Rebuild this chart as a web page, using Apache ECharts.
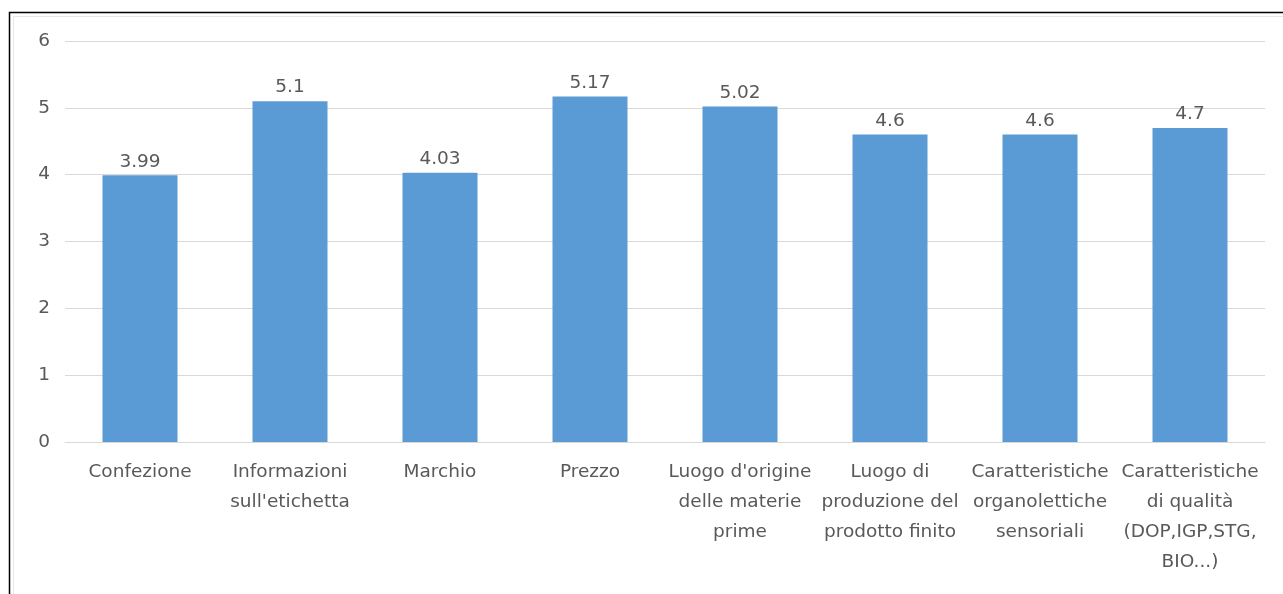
<!DOCTYPE html>
<html>
<head>
<meta charset="utf-8">
<script src="https://cdn.jsdelivr.net/npm/echarts@6/dist/echarts.min.js"></script>
<style>
  html, body { margin: 0; padding: 0; background: #fff; }
  #chart { width: 1283px; height: 594px; }
</style>
</head>
<body>
<div id="chart"></div>
<script>
// Attributi del prodotto e punteggio medio
const categories = [
  "Confezione",
  "Informazioni\nsull'etichetta",
  "Marchio",
  "Prezzo",
  "Luogo d'origine\ndelle materie\nprime",
  "Luogo di\nproduzione del\nprodotto finito",
  "Caratteristiche\norganolettiche\nsensoriali",
  "Caratteristiche\ndi qualità\n(DOP,IGP,STG,\nBIO...)"
];
const values = [3.99, 5.1, 4.03, 5.17, 5.02, 4.6, 4.6, 4.7];
const valueLabels = ["3.99", "5.1", "4.03", "5.17", "5.02", "4.6", "4.6", "4.7"];

const fontFamily = "'DejaVu Sans', 'Open Sans', sans-serif";
const textColor = "#595959";

const chart = echarts.init(document.getElementById('chart'), null, { renderer: 'canvas' });
chart.setOption({
  animation: false,
  backgroundColor: '#ffffff',
  graphic: [
    {
      type: 'rect',
      shape: { x: 13.5, y: 16.5, width: 1300, height: 700 },
      style: { fill: 'none', stroke: '#e8e8e8', lineWidth: 1 },
      silent: true
    },
    {
      type: 'rect',
      shape: { x: 9.5, y: 12.5, width: 1300, height: 700 },
      style: { fill: 'none', stroke: '#000000', lineWidth: 1.5 },
      silent: true
    }
  ],
  grid: { left: 65, right: 18, top: 41, bottom: 152, containLabel: false },
  xAxis: {
    type: 'category',
    data: categories,
    axisTick: { show: false },
    axisLine: { show: true, lineStyle: { color: '#d9d9d9', width: 1 } },
    axisLabel: {
      interval: 0,
      margin: 15,
      color: textColor,
      fontFamily: fontFamily,
      fontSize: 18.5,
      lineHeight: 30,
      align: 'center'
    }
  },
  yAxis: {
    type: 'value',
    min: 0,
    max: 6,
    interval: 1,
    axisLine: { show: false },
    axisTick: { show: false },
    splitLine: { lineStyle: { color: '#d9d9d9', width: 1 } },
    axisLabel: {
      margin: 15,
      color: textColor,
      fontFamily: fontFamily,
      fontSize: 18.5
    }
  },
  series: [{
    type: 'bar',
    data: values,
    barWidth: '50%',
    itemStyle: { color: '#5b9bd5' },
    label: {
      show: true,
      position: 'top',
      distance: 4,
      color: textColor,
      fontFamily: fontFamily,
      fontSize: 18.5,
      formatter: p => valueLabels[p.dataIndex]
    }
  }]
});
</script>
</body>
</html>
